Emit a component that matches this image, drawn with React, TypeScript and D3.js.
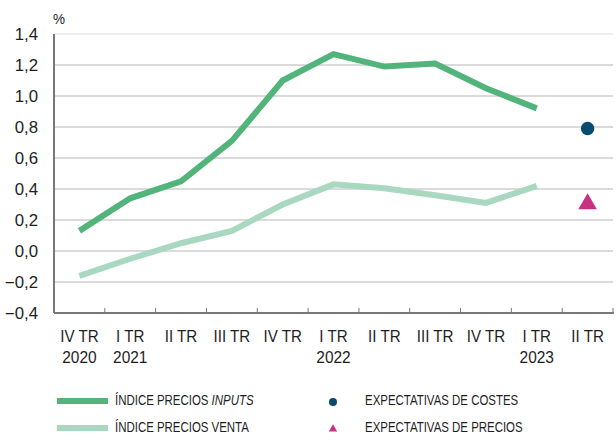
import React from "react";
import * as d3 from "d3";

const quarters = ["IV TR", "I TR", "II TR", "III TR", "IV TR", "I TR", "II TR", "III TR", "IV TR", "I TR", "II TR"];
const years = ["2020", "2021", "", "", "", "2022", "", "", "", "2023", ""];
const inputs = [0.13, 0.34, 0.45, 0.71, 1.1, 1.27, 1.19, 1.21, 1.05, 0.92];
const venta = [-0.16, -0.05, 0.05, 0.13, 0.3, 0.43, 0.405, 0.36, 0.31, 0.42];
const expCostes = 0.79;
const expPrecios = 0.31;
const yTicks = [-0.4, -0.2, 0, 0.2, 0.4, 0.6, 0.8, 1.0, 1.2, 1.4];

const W = 616, H = 434;
const left = 54, right = 613, top = 34, bottom = 313;
const font = "'Liberation Sans', Arial, sans-serif";

function CText(props: { x: number; y: number; sx: number; size: number; anchor?: string; children: React.ReactNode }) {
  const { x, y, sx, size, anchor, children } = props;
  return (
    <g transform={`translate(${x},${y}) scale(${sx},1)`}>
      <text x={0} y={0} fontSize={size} textAnchor={anchor || "start"} fill="#1e1e1e">{children}</text>
    </g>
  );
}

export default function App() {
  const idx = quarters.map((_, i) => i);
  const x = d3.scaleBand<number>().domain(idx).range([left, right]);
  const y = d3.scaleLinear().domain([-0.4, 1.4]).range([bottom, top]);
  const cx = (i: number) => (x(i) as number) + x.bandwidth() / 2;
  const line = d3.line<number>().x((_, i) => cx(i)).y((d) => y(d));
  const fmt = (v: number) => d3.format(".1f")(v).replace(".", ",");
  const last = quarters.length - 1;
  const tri = d3.symbol().type(d3.symbolTriangle).size(150)();

  return (
    <svg width={W} height={H} style={{ position: "absolute", left: 0, top: 0, background: "#fff" }} fontFamily={font}>
      <CText x={53} y={24} sx={0.9} size={15}>%</CText>
      {yTicks.map((t) => (
        <g key={t}>
          {t > -0.4 && (
            <line x1={left} x2={right} y1={y(t)} y2={y(t)} stroke={t === 1.4 ? "#dddddd" : "#b5b5b5"} strokeWidth={1} />
          )}
          <CText x={38} y={y(t) + 5.6} sx={1.05} size={16} anchor="end">{fmt(t)}</CText>
        </g>
      ))}
      <line x1={left} x2={left} y1={top} y2={bottom} stroke="#777" strokeWidth={2} />
      <line x1={left} x2={right + 1} y1={bottom} y2={bottom} stroke="#777" strokeWidth={2} />
      {idx.map((i) => (
        <line key={i} x1={(x(i) as number) + x.bandwidth()} x2={(x(i) as number) + x.bandwidth()} y1={bottom} y2={bottom - 5} stroke="#777" strokeWidth={1} />
      ))}
      {idx.map((i) => (
        <g key={"l" + i}>
          <CText x={cx(i)} y={342} sx={0.93} size={16.3} anchor="middle">{quarters[i]}</CText>
          {years[i] && <CText x={cx(i)} y={363} sx={0.95} size={16.3} anchor="middle">{years[i]}</CText>}
        </g>
      ))}
      <path d={line(venta) as string} fill="none" stroke="#a9d8c0" strokeWidth={6} />
      <path d={line(inputs) as string} fill="none" stroke="#52b47b" strokeWidth={6} />
      <circle cx={cx(last)} cy={y(expCostes)} r={6.7} fill="#0b4a6f" />
      <path d={tri as string} transform={`translate(${cx(last)},${y(expPrecios) + 1})`} fill="#c73181" />

      <line x1={57} x2={108} y1={401} y2={401} stroke="#52b47b" strokeWidth={6} />
      <line x1={57} x2={108} y1={428} y2={428} stroke="#a9d8c0" strokeWidth={6} />
      <CText x={115} y={405} sx={0.79} size={14.5}>ÍNDICE PRECIOS <tspan fontStyle="italic">INPUTS</tspan></CText>
      <CText x={115} y={431.5} sx={0.79} size={14.5}>ÍNDICE PRECIOS VENTA</CText>
      <circle cx={333} cy={402} r={4} fill="#0b4a6f" />
      <path d={d3.symbol().type(d3.symbolTriangle).size(30)() as string} transform="translate(333,429)" fill="#c73181" />
      <CText x={365} y={405} sx={0.79} size={14.5}>EXPECTATIVAS DE COSTES</CText>
      <CText x={365} y={431.5} sx={0.79} size={14.5}>EXPECTATIVAS DE PRECIOS</CText>
    </svg>
  );
}
